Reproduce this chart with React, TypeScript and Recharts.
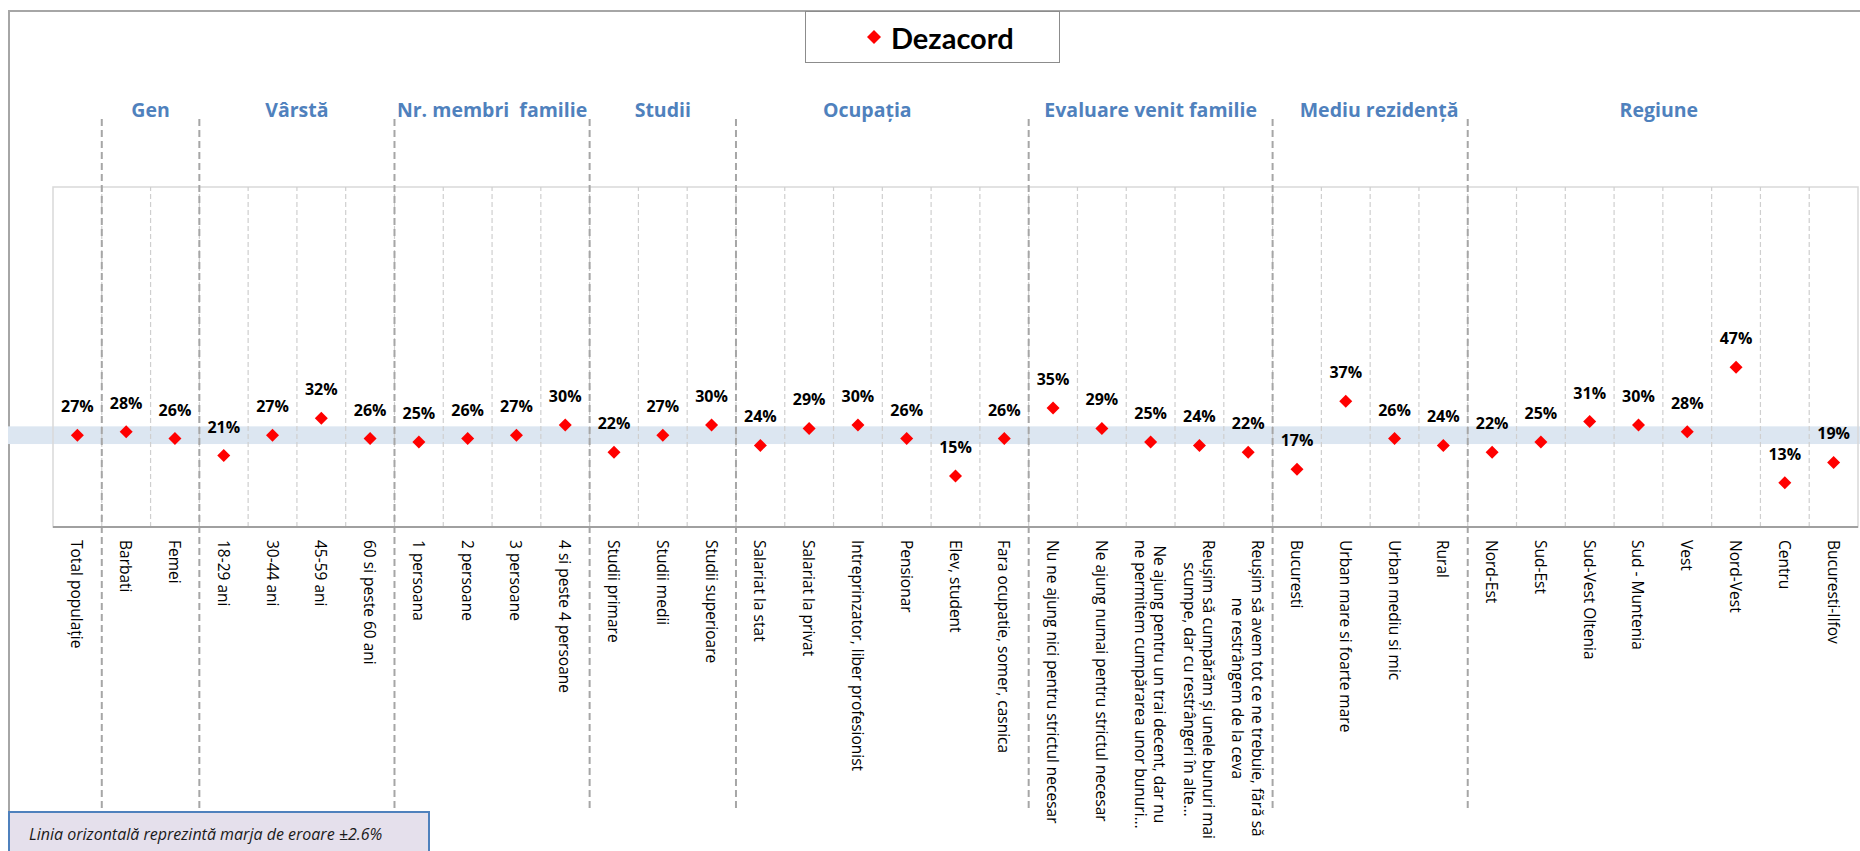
import React from "react";
import {
  ComposedChart,
  Line,
  XAxis,
  YAxis,
  ReferenceArea,
  ReferenceLine,
  LabelList,
  Legend,
} from "recharts";

// ---- data ----
const categories = [
  "Total populație",
  "Barbati",
  "Femei",
  "18-29 ani",
  "30-44 ani",
  "45-59 ani",
  "60 si peste 60 ani",
  "1 persoana",
  "2 persoane",
  "3 persoane",
  "4 si peste 4 persoane",
  "Studii primare",
  "Studii medii",
  "Studii superioare",
  "Salariat la stat",
  "Salariat la privat",
  "Intreprinzator, liber profesionist",
  "Pensionar",
  "Elev, student",
  "Fara ocupatie, somer, casnica",
  "Nu ne ajung nici pentru strictul necesar",
  "Ne ajung numai pentru strictul necesar",
  "Ne ajung pentru un trai decent, dar nu\nne permitem cumpărarea unor bunuri…",
  "Reușim să cumpărăm și unele bunuri mai\nscumpe, dar cu restrângeri în alte…",
  "Reușim să avem tot ce ne trebuie, fără să\nne restrângem de la ceva",
  "Bucuresti",
  "Urban mare si foarte mare",
  "Urban mediu si mic",
  "Rural",
  "Nord-Est",
  "Sud-Est",
  "Sud-Vest Oltenia",
  "Sud - Muntenia",
  "Vest",
  "Nord-Vest",
  "Centru",
  "Bucuresti-Ilfov",
];

const dezacord = [
  27, 28, 26, 21, 27, 32, 26, 25, 26, 27, 30, 22, 27, 30, 24, 29, 30, 26, 15,
  26, 35, 29, 25, 24, 22, 17, 37, 26, 24, 22, 25, 31, 30, 28, 47, 13, 19,
];

const groupNames = [
  "",
  "Gen",
  "Vârstă",
  "Nr. membri  familie",
  "Studii",
  "Ocupația",
  "Evaluare venit familie",
  "Mediu rezidență",
  "Regiune",
];
const groupSizes = [1, 2, 4, 4, 3, 6, 5, 4, 8];

const seriesName = "Dezacord";
const totalValue = 27;
const errorMargin = 2.6;
const footnote = "Linia orizontală reprezintă marja de eroare ±2.6%";

// ---- layout ----
const W = 1860;
const H = 851;
const PLOT_LEFT = 53;
const PLOT_RIGHT = 1858;
const PLOT_TOP = 187;
const PLOT_BOTTOM = 527;
const FRAME_LEFT = 8;
const FRAME_TOP = 10;
const SEP_TOP = 119;
const SEP_BOTTOM = 811;
const HEADER_Y = 117;
// headers were placed by hand in the original, a few sit off-centre
const headerNudge = [0, 0, 0, 0, 0, -15, 0, 9, -4];
const LABEL_TOP = 540;
const LABEL_FONT = 15.5;
const LABEL_LINE = 19.5;
const RED = "#FF0000";
const BLUE = "#4F81BD";

const chartData = categories.map((name, i) => ({ pos: i + 0.5, name, value: dezacord[i] }));
const tickPositions = chartData.map((d) => d.pos);

const groupEnds: number[] = [];
groupSizes.reduce((acc, s) => {
  groupEnds.push(acc + s);
  return acc + s;
}, 0);
const separators = groupEnds.slice(0, -1);
const gridLines = categories.slice(1).map((_, i) => i + 1);

let measureCtx: CanvasRenderingContext2D | null = null;
function textWidth(s: string) {
  if (!measureCtx) measureCtx = document.createElement("canvas").getContext("2d");
  if (!measureCtx) return s.length * 8;
  measureCtx.font = `${LABEL_FONT}px "Open Sans"`;
  return measureCtx.measureText(s).width;
}

function Diamond(props: any) {
  const { cx, cy } = props;
  if (cx == null || cy == null) return null;
  const r = 6.5;
  return (
    <polygon
      points={`${cx},${cy - r} ${cx + r},${cy} ${cx},${cy + r} ${cx - r},${cy}`}
      fill={RED}
    />
  );
}

function ValueLabel(props: any) {
  const vb = props.viewBox || {};
  const x = props.x ?? vb.x;
  const y = props.y ?? vb.y;
  if (x == null || y == null) return null;
  return (
    <text
      x={x}
      y={y - 23}
      textAnchor="middle"
      fontFamily="Open Sans"
      fontWeight={700}
      fontSize={16}
      fill="#000"
    >
      {`${props.value}%`}
    </text>
  );
}

function CategoryTick(props: any) {
  const { x, payload } = props;
  const idx = Math.floor(payload.value);
  const lines = (categories[idx] || "").split("\n");
  const multi = lines.length > 1;
  const maxW = Math.max(...lines.map(textWidth));
  return (
    <g transform={`translate(${x},${LABEL_TOP}) rotate(90)`}>
      {lines.map((ln, i) => (
        <text
          key={i}
          x={multi ? maxW / 2 : 0}
          y={(i - (lines.length - 1) / 2) * LABEL_LINE}
          textAnchor={multi ? "middle" : "start"}
          dominantBaseline="central"
          fontFamily="Open Sans"
          fontSize={LABEL_FONT}
          fill="#000"
        >
          {ln}
        </text>
      ))}
    </g>
  );
}

function LegendBox() {
  return (
    <div
      style={{
        boxSizing: "border-box",
        width: 255,
        height: 52,
        border: "1.5px solid #8C8C8C",
        background: "#fff",
        display: "flex",
        alignItems: "center",
        paddingLeft: 61,
        gap: 10,
      }}
    >
      <svg width={14} height={14}>
        <polygon points="7,0 14,7 7,14 0,7" fill={RED} />
      </svg>
      <span style={{ fontFamily: "Lato", fontWeight: 700, fontSize: 29, color: "#000" }}>
        {seriesName}
      </span>
    </div>
  );
}

export default function App() {
  return (
    <div style={{ position: "absolute", left: 0, top: 0, width: W, height: H, overflow: "hidden", background: "#fff" }}>
      <div
        style={{
          position: "absolute",
          left: FRAME_LEFT,
          top: FRAME_TOP,
          width: W,
          height: SEP_BOTTOM - FRAME_TOP,
          borderLeft: "2px solid #A6A6A6",
          borderTop: "2px solid #A6A6A6",
          boxSizing: "border-box",
        }}
      />
      <div style={{ position: "absolute", left: 0, top: 0 }}>
        <ComposedChart
          width={W}
          height={H}
          data={chartData}
          margin={{ top: PLOT_TOP, right: W - PLOT_RIGHT, bottom: 0, left: PLOT_LEFT }}
        >
          <XAxis
            dataKey="pos"
            type="number"
            domain={[0, categories.length]}
            ticks={tickPositions}
            interval={0}
            tickLine={false}
            height={H - PLOT_BOTTOM}
            axisLine={{ stroke: "#A0A0A0", strokeWidth: 2 }}
            tick={<CategoryTick />}
          />
          <YAxis hide width={0} type="number" domain={[0, 100]} />
          <Legend
            verticalAlign="middle"
            align="center"
            layout="horizontal"
            wrapperStyle={{ top: 11, left: 805, width: 255, height: 52 }}
            content={() => <LegendBox />}
          />
          <ReferenceArea
            y1={totalValue - errorMargin}
            y2={totalValue + errorMargin}
            shape={(p: any) => (
              <rect x={FRAME_LEFT} y={p.y} width={W - FRAME_LEFT} height={p.height} fill="#DCE6F1" />
            )}
          />
          <ReferenceArea
            x1={0}
            x2={categories.length}
            y1={0}
            y2={100}
            fill="none"
            stroke="#D9D9D9"
            strokeWidth={1.5}
          />
          {gridLines.map((g) => (
            <ReferenceLine key={`g${g}`} x={g} stroke="#CFCFCF" strokeWidth={1.2} strokeDasharray="5 3" />
          ))}
          {separators.map((s) => (
            <ReferenceLine
              key={`s${s}`}
              x={s}
              ifOverflow="visible"
              shape={(p: any) => (
                <line
                  x1={p.x1}
                  x2={p.x2}
                  y1={SEP_TOP}
                  y2={SEP_BOTTOM}
                  stroke="#A6A6A6"
                  strokeWidth={2}
                  strokeDasharray="7 4"
                />
              )}
            />
          ))}
          {groupNames.map((name, i) =>
            name ? (
              <ReferenceArea
                key={`h${i}`}
                x1={groupEnds[i] - groupSizes[i]}
                x2={groupEnds[i]}
                ifOverflow="visible"
                shape={(p: any) => (
                  <text
                    x={p.x + p.width / 2 + headerNudge[i]}
                    y={HEADER_Y}
                    textAnchor="middle"
                    fontFamily="Open Sans"
                    fontWeight={700}
                    fontSize={19.5}
                    fill={BLUE}
                    style={{ whiteSpace: "pre" }}
                  >
                    {name}
                  </text>
                )}
              />
            ) : null
          )}
          <Line
            dataKey="value"
            name={seriesName}
            stroke="none"
            dot={<Diamond />}
            activeDot={false}
            isAnimationActive={false}
            legendType="diamond"
          >
            <LabelList dataKey="value" content={<ValueLabel />} />
          </Line>
        </ComposedChart>
      </div>
      <div
        style={{
          position: "absolute",
          left: FRAME_LEFT,
          top: SEP_BOTTOM,
          width: 422,
          height: 60,
          boxSizing: "border-box",
          background: "#E5E0EC",
          border: `2px solid ${BLUE}`,
          paddingLeft: 19,
          paddingTop: 10,
          fontFamily: "Open Sans",
          fontStyle: "italic",
          fontSize: 16,
          color: "#1A1A1A",
          whiteSpace: "nowrap",
        }}
      >
        {footnote}
      </div>
    </div>
  );
}
